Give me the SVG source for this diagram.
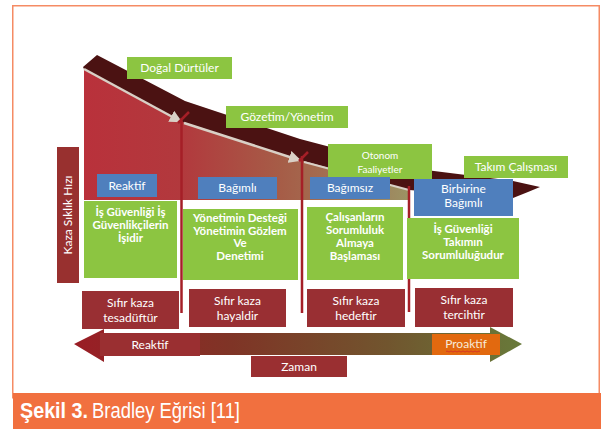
<svg xmlns="http://www.w3.org/2000/svg" width="601" height="429" viewBox="0 0 601 429">
<defs>
<linearGradient id="fillG" gradientUnits="userSpaceOnUse" x1="84" y1="0" x2="409" y2="0">
<stop offset="0" stop-color="#b9313b"/>
<stop offset="0.3" stop-color="#b2393d"/>
<stop offset="0.6" stop-color="#a65c47"/>
<stop offset="0.85" stop-color="#a07a58"/>
<stop offset="1" stop-color="#9c9364"/>
</linearGradient>
<linearGradient id="arrG" gradientUnits="userSpaceOnUse" x1="74" y1="0" x2="522" y2="0">
<stop offset="0" stop-color="#9a1d25"/>
<stop offset="0.35" stop-color="#7f3426"/>
<stop offset="0.7" stop-color="#71552e"/>
<stop offset="1" stop-color="#687a3a"/>
</linearGradient>
<marker id="ah" viewBox="0 0 10 10" refX="8" refY="5" markerWidth="5" markerHeight="5" orient="auto" markerUnits="strokeWidth">
<path d="M0,0 L10,5 L0,10 Z" fill="#d9d0c6"/>
</marker>
</defs>
<style>
.g{fill:#8cc541}
.b{fill:#4f7fbd}
.r{fill:#992f33}
.t{font-family:Lato,"Open Sans","DejaVu Sans",sans-serif;fill:#ffffff;text-anchor:middle}
.l12{font-size:12px}
.l10{font-size:10px}
.bd{font-size:11.5px;font-weight:bold}
.vl{fill:none;stroke:#a51f27;stroke-width:2.5}
</style>
<rect x="12.75" y="5.75" width="586.5" height="392" fill="#ffffff" stroke="#f58b64" stroke-width="1.5"/>
<rect x="13" y="393" width="588" height="36" fill="#f1703f"/>
<text x="20" y="418" font-family="'Liberation Sans',Arial,sans-serif" font-size="22" font-weight="bold" fill="#ffffff" textLength="68" lengthAdjust="spacingAndGlyphs">Şekil 3.</text>
<text x="92" y="418" font-family="'Liberation Sans',Arial,sans-serif" font-size="22" fill="#ffffff" textLength="148" lengthAdjust="spacingAndGlyphs">Bradley Eğrisi [11]</text>

<g id="curve">
<polygon points="84,68 180,121 300,160 409,189 409,200 84,200" fill="url(#fillG)"/>
<polygon points="83,67 97,55 185,101 218,112 300,139 410,168 513,181 540,187 528,192 513,198 409,190 300,160 180,121 84,69" fill="#4b1212"/>
<polyline points="84,69 180,121" fill="none" stroke="#d9d0c6" stroke-width="2.5" marker-end="url(#ah)"/>
<polyline points="184,123 299,160" fill="none" stroke="#d9d0c6" stroke-width="2.5" marker-end="url(#ah)"/>
<polyline points="304,162 409,190" fill="none" stroke="#d9d0c6" stroke-width="2"/>
</g>

<g id="connectors">
<path class="vl" d="M181.5,313 V118 M178,123 L189,112"/>
<path class="vl" d="M302,313 V156 M299,161 L308,152"/>
<path class="vl" d="M409,312 V186"/>
<g id="time-arrow">
<polygon points="74,344 104,329 104,333 490,333 490,327 522,344 490,362 490,355 104,355 104,362" fill="url(#arrG)"/>
</g>
</g>

<g id="axis-label">
<rect x="57" y="147" width="22" height="136" fill="#98302f"/>
<text class="t l12" transform="translate(72,215) rotate(-90)">Kaza Sıklık Hızı</text>
</g>

<g id="dogal-durtuler"><rect class="g" x="127" y="57" width="105" height="22"/><text class="t l12" x="179.5" y="72">Doğal Dürtüler</text></g>
<g id="gozetim-yonetim"><rect class="g" x="226" y="106" width="122" height="22"/><text class="t l12" x="287" y="121">Gözetim/Yönetim</text></g>
<g id="otonom-faaliyetler"><rect class="g" x="328" y="144" width="104" height="35"/><text class="t l10" x="380" y="158.5">Otonom</text><text class="t l10" x="380" y="172.5">Faaliyetler</text></g>
<g id="takim-calismasi"><rect class="g" x="464" y="156" width="104" height="22"/><text class="t l12" x="516" y="171">Takım Çalışması</text></g>

<g id="reaktif-stage"><rect class="b" x="97" y="174" width="60" height="23"/><text class="t l12" x="127" y="190">Reaktif</text></g>
<g id="bagimli-stage"><rect class="b" x="198" y="177" width="79" height="22"/><text class="t l12" x="237.5" y="192">Bağımlı</text></g>
<g id="bagimsiz-stage"><rect class="b" x="310" y="177" width="80" height="22"/><text class="t l12" x="350" y="192">Bağımsız</text></g>
<g id="birbirine-bagimli-stage"><rect class="b" x="414" y="179" width="99" height="37"/><text class="t l12" x="463.5" y="193">Birbirine</text><text class="t l12" x="463.5" y="207">Bağımlı</text></g>

<g id="desc-1"><rect class="g" x="84" y="201" width="93" height="77"/><text class="t bd" x="130.5" y="216">İş Güvenliği İş</text><text class="t bd" x="130.5" y="229">Güvenlikçilerin</text><text class="t bd" x="130.5" y="242">İşidir</text></g>
<g id="desc-2"><rect x="183" y="200" width="114" height="9" fill="#ffffff"/><rect class="g" x="183" y="209" width="115" height="71"/><text class="t bd" x="240" y="222">Yönetimin Desteği</text><text class="t bd" x="240" y="235">Yönetimin Gözlem</text><text class="t bd" x="240" y="247">Ve</text><text class="t bd" x="240" y="260">Denetimi</text></g>
<g id="desc-3"><rect class="g" x="307" y="207" width="96" height="73"/><text class="t bd" x="355" y="221">Çalışanların</text><text class="t bd" x="355" y="234">Sorumluluk</text><text class="t bd" x="355" y="247">Almaya</text><text class="t bd" x="355" y="260">Başlaması</text></g>
<g id="desc-4"><rect class="g" x="407" y="218" width="112" height="61"/><text class="t bd" x="463" y="233">İş Güvenliği</text><text class="t bd" x="463" y="246">Takımın</text><text class="t bd" x="463" y="259">Sorumluluğudur</text></g>

<g id="sifir-1"><rect class="r" x="82" y="291" width="97" height="38"/><text class="t l12" x="130.5" y="307">Sıfır kaza</text><text class="t l12" x="130.5" y="322">tesadüftür</text></g>
<g id="sifir-2"><rect class="r" x="189" y="289" width="97" height="38"/><text class="t l12" x="237.5" y="305">Sıfır kaza</text><text class="t l12" x="237.5" y="320">hayaldir</text></g>
<g id="sifir-3"><rect class="r" x="307" y="289" width="98" height="38"/><text class="t l12" x="356" y="305">Sıfır kaza</text><text class="t l12" x="356" y="320">hedeftir</text></g>
<g id="sifir-4"><rect class="r" x="415" y="288" width="98" height="39"/><text class="t l12" x="464" y="304">Sıfır kaza</text><text class="t l12" x="464" y="319">tercihtir</text></g>

<g id="reaktif-label"><rect x="100" y="333" width="100" height="23" fill="#9a2f31"/><text class="t l12" x="150" y="349">Reaktif</text></g>
<g id="proaktif-label"><rect x="432" y="334" width="68" height="21" fill="#e2690f"/><text class="t l12" x="466" y="348" style="fill:#f7ead8">Proaktif</text><path d="M446,351.5 q1,-1 2,0 t2,0 t2,0 t2,0 t2,0 t2,0 t2,0 t2,0 t2,0 t2,0 t2,0 t2,0 t2,0 t2,0 t2,0 t2,0 t2,0" fill="none" stroke="#d22a2a" stroke-width="0.8"/></g>
<g id="zaman-label"><rect x="251" y="356" width="96" height="21" fill="#9a2f31"/><text class="t l12" x="299" y="371">Zaman</text></g>
</svg>
